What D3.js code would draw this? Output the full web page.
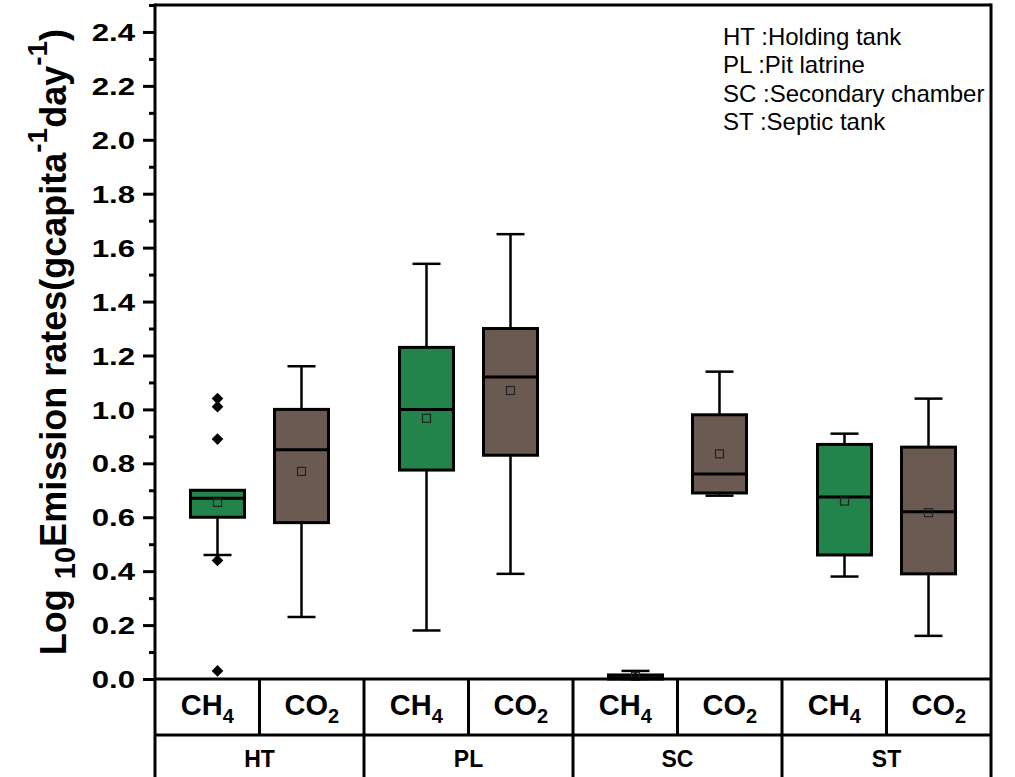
<!DOCTYPE html>
<html>
<head>
<meta charset="utf-8">
<script src="https://cdn.jsdelivr.net/npm/d3@7"></script>
<style>
  body { margin: 0; background: #fff; }
  text { font-family: "Liberation Sans", Arial, sans-serif; }
</style>
</head>
<body>
<div id="chart"></div>
<script>

//******************************************************************************
//**  Data
//******************************************************************************
var groups = ["HT", "PL", "SC", "ST"];
var gases = ["CH4", "CO2"];

// one entry per box, ordered HT-CH4, HT-CO2, PL-CH4, PL-CO2, ...
var boxGroup   = ["HT", "HT", "PL", "PL", "SC", "SC", "ST", "ST"];
var boxGas     = ["CH4", "CO2", "CH4", "CO2", "CH4", "CO2", "CH4", "CO2"];
var whiskerLow = [0.46, 0.23, 0.18, 0.39, 0.00, 0.68, 0.38, 0.16];
var q1         = [0.60, 0.58, 0.775, 0.83, 0.00, 0.69, 0.46, 0.39];
var medians    = [0.67, 0.85, 1.00, 1.12, 0.005, 0.76, 0.675, 0.62];
var q3         = [0.70, 1.00, 1.23, 1.30, 0.015, 0.98, 0.87, 0.86];
var whiskerHigh= [0.70, 1.16, 1.54, 1.65, 0.03, 1.14, 0.91, 1.04];
var means      = [0.655, 0.77, 0.967, 1.07, 0.01, 0.835, 0.66, 0.617];

var outlierGroup = ["HT", "HT", "HT", "HT", "HT"];
var outlierGas   = ["CH4", "CH4", "CH4", "CH4", "CH4"];
var outlierValue = [1.04, 1.01, 0.89, 0.44, 0.03];

var majorTicks = [0, 0.2, 0.4, 0.6, 0.8, 1.0, 1.2, 1.4, 1.6, 1.8, 2.0, 2.2, 2.4];
var minorTicks = [0.1, 0.3, 0.5, 0.7, 0.9, 1.1, 1.3, 1.5, 1.7, 1.9, 2.1, 2.3, 2.5];

var legendLines = [
    "HT :Holding tank",
    "PL :Pit latrine",
    "SC :Secondary chamber",
    "ST :Septic tank"
];

var gasColors = { CH4: "#22834b", CO2: "#6b5a51" };


//******************************************************************************
//**  Layout
//******************************************************************************
var width = 1015, height = 777;
var plotLeft = 155, plotRight = 991, plotTop = 5, axisY = 679, row1 = 735;

var svg = d3.select("#chart").append("svg")
    .attr("width", width)
    .attr("height", height)
    .style("display", "block");

svg.append("rect").attr("width", width).attr("height", height).attr("fill", "#fff");

var y = d3.scaleLinear().domain([0, 2.5]).range([axisY, plotTop]);

var xGroup = d3.scaleBand().domain(groups).range([plotLeft, plotRight]);
var xGas = d3.scaleBand().domain(gases).range([0, xGroup.bandwidth()]);
var boxOffset = d3.scalePoint().domain(gases).range([-42, 42]);

var boxWidth = 54, capWidth = 28;

var cx = function(g, s){
    return xGroup(g) + xGroup.bandwidth()/2 + boxOffset(s);
};


//**************************************************************************
//** Boxes
//**************************************************************************
var boxes = d3.range(boxGroup.length).map(function(i){
    return {
        group: boxGroup[i], gas: boxGas[i],
        lo: whiskerLow[i], q1: q1[i], med: medians[i],
        q3: q3[i], hi: whiskerHigh[i], mean: means[i]
    };
});

var box = svg.append("g").selectAll("g")
    .data(boxes).enter().append("g")
    .attr("transform", function(d){ return "translate(" + cx(d.group, d.gas) + ",0)"; });

// whiskers
box.append("line")
    .attr("y1", function(d){ return y(d.hi); })
    .attr("y2", function(d){ return y(d.lo); })
    .attr("stroke", "#000").attr("stroke-width", 2.5);

box.selectAll(".cap")
    .data(function(d){ return [d.hi, d.lo]; })
    .enter().append("line")
    .attr("x1", -capWidth/2).attr("x2", capWidth/2)
    .attr("y1", function(v){ return y(v); })
    .attr("y2", function(v){ return y(v); })
    .attr("stroke", "#000").attr("stroke-width", 2.5);

box.append("rect")
    .attr("x", -boxWidth/2)
    .attr("width", boxWidth)
    .attr("y", function(d){ return y(d.q3); })
    .attr("height", function(d){ return y(d.q1) - y(d.q3); })
    .attr("fill", function(d){ return gasColors[d.gas]; })
    .attr("stroke", "#000").attr("stroke-width", 3);

box.append("line")
    .attr("x1", -boxWidth/2).attr("x2", boxWidth/2)
    .attr("y1", function(d){ return y(d.med); })
    .attr("y2", function(d){ return y(d.med); })
    .attr("stroke", "#000").attr("stroke-width", 3);

box.append("rect")
    .attr("x", -4).attr("width", 8)
    .attr("y", function(d){ return y(d.mean) - 4; })
    .attr("height", 8)
    .attr("fill", "none")
    .attr("stroke", "#222").attr("stroke-width", 1.2);


//**************************************************************************
//** Outliers
//**************************************************************************
var diamond = d3.symbol().type(d3.symbolSquare).size(68);
svg.append("g").selectAll("path")
    .data(outlierValue).enter().append("path")
    .attr("d", diamond)
    .attr("transform", function(v, i){
        return "translate(" + cx(outlierGroup[i], outlierGas[i]) + "," + y(v) + ") rotate(45)";
    })
    .attr("fill", "#000");


//**************************************************************************
//** Y axis
//**************************************************************************
var axis = svg.append("g").attr("transform", "translate(" + plotLeft + ",0)");

axis.call(d3.axisLeft(y).tickValues(majorTicks).tickSize(12).tickPadding(8)
    .tickFormat(d3.format(".1f")));
axis.select(".domain").remove();
axis.selectAll(".tick line").attr("stroke", "#000").attr("stroke-width", 3);
axis.selectAll(".tick text")
    .attr("font-size", 24).attr("font-weight", "bold").attr("fill", "#000")
    .attr("font-family", "Liberation Sans, Arial, sans-serif")
    .attr("x", 0).attr("dy", "0.36em")
    .attr("transform", "translate(-20,0) scale(1.3,1)");

var minor = svg.append("g").attr("transform", "translate(" + plotLeft + ",0)");
minor.call(d3.axisLeft(y).tickValues(minorTicks).tickSize(6).tickFormat(""));
minor.select(".domain").remove();
minor.selectAll(".tick line").attr("stroke", "#000").attr("stroke-width", 3);


//**************************************************************************
//** Frame and category table
//**************************************************************************
var frame = svg.append("g").attr("stroke", "#000").attr("stroke-width", 3);
frame.append("line").attr("x1", plotLeft).attr("x2", plotLeft).attr("y1", plotTop - 1.5).attr("y2", height);
frame.append("line").attr("x1", plotRight).attr("x2", plotRight).attr("y1", plotTop - 1.5).attr("y2", height);
frame.append("line").attr("x1", plotLeft).attr("x2", plotRight).attr("y1", plotTop).attr("y2", plotTop);
frame.append("line").attr("x1", plotLeft).attr("x2", plotRight).attr("y1", axisY).attr("y2", axisY);
frame.append("line").attr("x1", plotLeft).attr("x2", plotRight).attr("y1", row1).attr("y2", row1);

groups.forEach(function(g, i){
    if (i > 0) {
        frame.append("line")
            .attr("x1", xGroup(g)).attr("x2", xGroup(g))
            .attr("y1", axisY).attr("y2", height);
    }
    var mid = xGroup(g) + xGas("CO2");
    frame.append("line")
        .attr("x1", mid).attr("x2", mid)
        .attr("y1", axisY).attr("y2", row1);
});

var labels = svg.append("g").attr("font-weight", "bold").attr("fill", "#000");

groups.forEach(function(g){
    gases.forEach(function(s){
        var t = labels.append("text")
            .attr("x", xGroup(g) + xGas(s) + xGas.bandwidth()/2)
            .attr("y", 715)
            .attr("text-anchor", "middle")
            .attr("font-size", 29);
        t.append("tspan").text(s.slice(0, 2));
        t.append("tspan").attr("font-size", 20).attr("dy", 8).text(s.slice(2));
    });
    labels.append("text")
        .attr("x", xGroup(g) + xGroup.bandwidth()/2)
        .attr("y", 767)
        .attr("text-anchor", "middle")
        .attr("font-size", 23)
        .text(g);
});


//**************************************************************************
//** Y axis title
//**************************************************************************
var title = svg.append("text")
    .attr("transform", "translate(66,342) rotate(-90)")
    .attr("text-anchor", "middle")
    .attr("font-size", 36)
    .attr("font-weight", "bold")
    .attr("fill", "#000");
title.append("tspan").text("Log ");
title.append("tspan").attr("font-size", 29).attr("dy", 9).text("10");
title.append("tspan").attr("dy", -9).text("Emission rates(gcapita");
title.append("tspan").attr("font-size", 28).attr("dy", -19).text("-1");
title.append("tspan").attr("dy", 19).text("day");
title.append("tspan").attr("font-size", 28).attr("dy", -19).text("-1");
title.append("tspan").attr("dy", 19).text(")");


//**************************************************************************
//** Legend
//**************************************************************************
svg.append("g").selectAll("text")
    .data(legendLines).enter().append("text")
    .attr("x", 723)
    .attr("y", function(d, i){ return 45 + i*28.4; })
    .attr("font-size", 24)
    .attr("fill", "#000")
    .text(function(d){ return d; });

</script>
</body>
</html>
